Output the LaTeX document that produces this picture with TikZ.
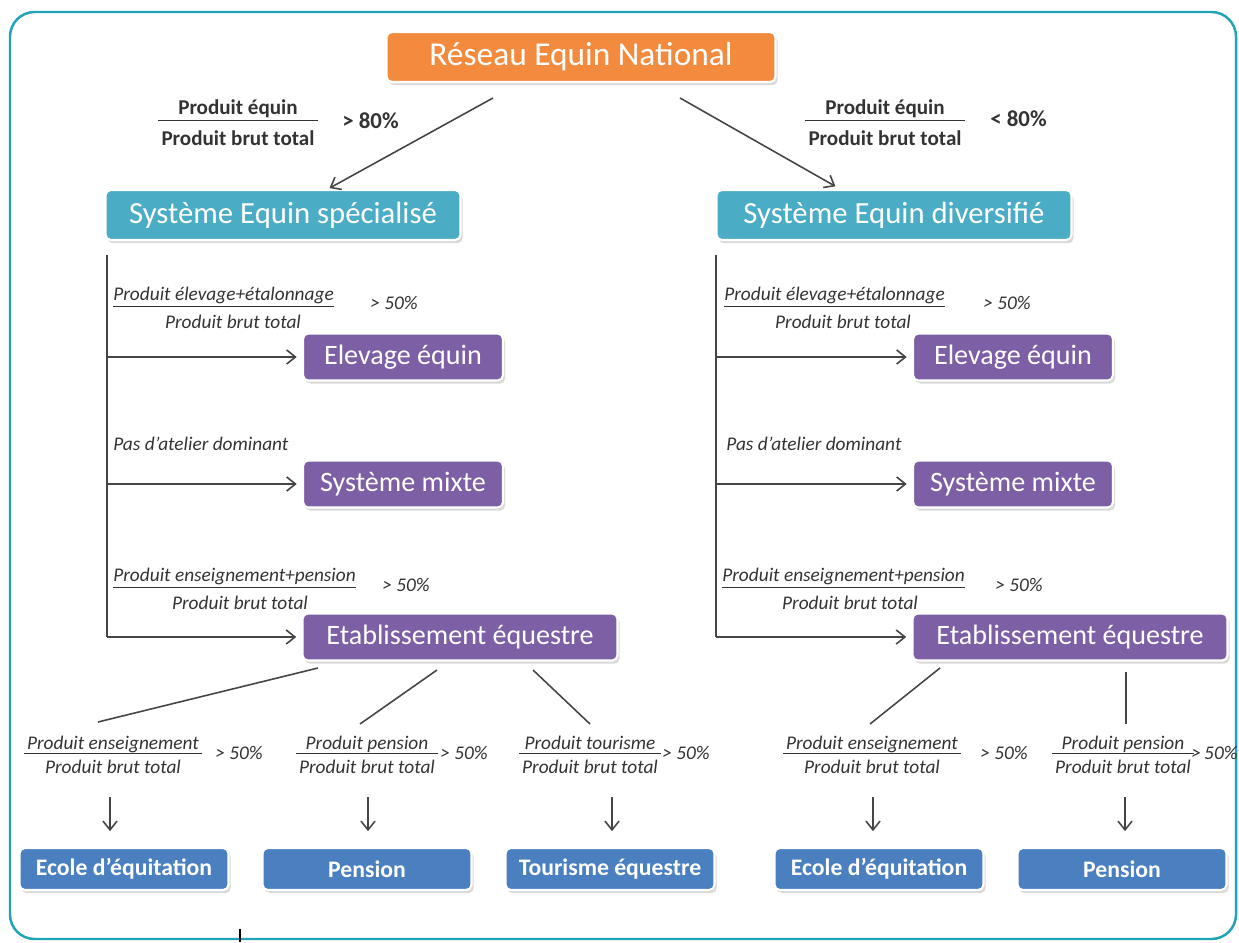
\documentclass[tikz,border=0pt]{standalone}
\usepackage{fontspec}
\setmainfont{Carlito}
\usetikzlibrary{arrows.meta,shadows}
\definecolor{frameC}{HTML}{1FA3B5}
\definecolor{orangeC}{HTML}{F38B3F}
\definecolor{tealC}{HTML}{4BACC6}
\definecolor{purpC}{HTML}{7D5FA5}
\definecolor{blueC}{HTML}{4A7FC0}
\definecolor{lineC}{HTML}{454545}
\definecolor{txtC}{HTML}{333333}
\setlength{\arrayrulewidth}{0.7pt}
\newcommand{\myfrac}[2]{\begin{tabular}{@{\,}c@{\,}}#1\\[-2pt]\hline\rule{0pt}{1.0em}#2\end{tabular}}
\newcommand{\bigfrac}[2]{\begin{tabular}{@{\,}c@{\,}}#1\\[-1pt]\hline\rule{0pt}{1.15em}#2\end{tabular}}
\begin{document}
\begin{tikzpicture}[x=0.02cm,y=-0.02cm,
  box/.style={rounded corners=3pt, draw=white, line width=1.2pt, text=white,
    inner sep=0pt, drop shadow={shadow xshift=1.2pt, shadow yshift=-1.8pt, opacity=0.3}},
  top/.style={box, fill=orangeC, minimum width=7.78cm, minimum height=1.0cm, font=\fontsize{19}{22}\selectfont},
  sys/.style={box, fill=tealC, minimum width=7.1cm, minimum height=1.0cm, font=\fontsize{17.5}{20}\selectfont},
  cat/.style={box, fill=purpC, minimum width=4.0cm, minimum height=0.94cm, font=\fontsize{16}{19}\selectfont},
  leaf/.style={box, fill=blueC, minimum width=4.18cm, minimum height=0.84cm, font=\bfseries\fontsize{13.5}{16}\selectfont},
  arr/.style={draw=lineC, line width=0.9pt, -{Straight Barb[length=5pt,width=8pt]}},
  ln/.style={draw=lineC, line width=0.9pt},
  bfr/.style={text=txtC, inner sep=0pt, font=\bfseries\fontsize{12}{14}\selectfont},
  bpc/.style={text=txtC, inner sep=0pt, font=\bfseries\fontsize{13}{15}\selectfont},
  ifr/.style={text=txtC, inner sep=0pt, font=\itshape\fontsize{11}{13}\selectfont},
]
\useasboundingbox (0,0) rectangle (1239,942);
\draw[frameC, line width=1.4pt, rounded corners=14pt] (10,12) rectangle (1236,939);
\draw[black, line width=0.6pt] (240,929) -- (240,942);

% main nodes
\node[top] (res) at (581,57) {Réseau Equin National};
\node[sys] (spec) at (283,215) {Système Equin spécialisé};
\node[sys] (div) at (894,215) {Système Equin diversifié};

\node[cat] (elevL) at (403,357) {Elevage équin};
\node[cat] (mixL) at (403,484) {Système mixte};
\node[cat, minimum width=6.3cm] (etabL) at (460,637) {Etablissement équestre};
\node[cat] (elevR) at (1013,357) {Elevage équin};
\node[cat] (mixR) at (1013,484) {Système mixte};
\node[cat, minimum width=6.3cm] (etabR) at (1070,637) {Etablissement équestre};

\node[leaf] (ecoleL) at (124,869) {Ecole d’équitation};
\node[leaf] (pensL) at (367,869) {Pension};
\node[leaf] (tour) at (610,869) {Tourisme équestre};
\node[leaf] (ecoleR) at (879,869) {Ecole d’équitation};
\node[leaf] (pensR) at (1122,869) {Pension};

% top arrows
\coordinate (r1) at (493,98);
\coordinate (r2) at (680,98);
\draw[arr, shorten >=1pt] (r1) -- (spec.north -| 328,0);
\draw[arr, shorten >=3pt] (r2) -- (div.north -| 840,0);

% top fractions
\node[bfr] (f1) at (238,125) {\bigfrac{Produit équin}{Produit brut total}};
\node[bpc, anchor=west] (f1p) at (342,121) {> 80\%};
\node[bfr] (f2) at (885,125) {\bigfrac{Produit équin}{Produit brut total}};
\node[bpc, anchor=west] (f2p) at (990,119) {< 80\%};

% left bus
\coordinate (bL1) at (107,255);
\coordinate (bL2) at (107,637);
\draw[ln] (bL1) -- (bL2);
\draw[arr, shorten >=3pt] (bL1 |- elevL) -- (elevL.west);
\draw[arr, shorten >=3pt] (bL1 |- mixL) -- (mixL.west);
\draw[arr, shorten >=3pt] (bL2) -- (etabL.west);

% right bus
\coordinate (bR1) at (716,255);
\coordinate (bR2) at (716,637);
\draw[ln] (bR1) -- (bR2);
\draw[arr, shorten >=3pt] (bR1 |- elevR) -- (elevR.west);
\draw[arr, shorten >=3pt] (bR1 |- mixR) -- (mixR.west);
\draw[arr, shorten >=3pt] (bR2) -- (etabR.west);

% middle labels left
\node[ifr, anchor=west] (nL1) at (113,297) {\underline{Produit élevage+étalonnage}};
\node[ifr] (dL1) at (233,322) {Produit brut total};
\node[ifr, anchor=west] (pL1) at (370,303) {> 50\%};
\node[ifr, anchor=west] (pasL) at (113,444) {Pas d’atelier dominant};
\node[ifr, anchor=west] (nL3) at (113,578) {\underline{Produit enseignement+pension}};
\node[ifr] (dL3) at (240,603) {Produit brut total};
\node[ifr, anchor=west] (pL3) at (382,585) {> 50\%};

% middle labels right
\node[ifr, anchor=west] (nR1) at (724,297) {\underline{Produit élevage+étalonnage}};
\node[ifr] (dR1) at (843,322) {Produit brut total};
\node[ifr, anchor=west] (pR1) at (983,303) {> 50\%};
\node[ifr, anchor=west] (pasR) at (726,444) {Pas d’atelier dominant};
\node[ifr, anchor=west] (nR3) at (722,578) {\underline{Produit enseignement+pension}};
\node[ifr] (dR3) at (850,603) {Produit brut total};
\node[ifr, anchor=west] (pR3) at (995,585) {> 50\%};

% lines from etablissement
\coordinate (eL1) at (318,668); \coordinate (eL1e) at (98,722);
\coordinate (eL2) at (437,670); \coordinate (eL2e) at (360,724);
\coordinate (eL3) at (533,670); \coordinate (eL3e) at (590,724);
\coordinate (eR1) at (940,668); \coordinate (eR1e) at (870,724);
\coordinate (eR2) at (1126,672); \coordinate (eR2e) at (1126,724);
\draw[ln] (eL1) -- (eL1e);
\draw[ln] (eL2) -- (eL2e);
\draw[ln] (eL3) -- (eL3e);
\draw[ln] (eR1) -- (eR1e);
\draw[ln] (eR2) -- (eR2e);

% bottom fractions
\node[ifr] (b1) at (113,757) {\myfrac{Produit enseignement}{Produit brut total}};
\node[ifr, anchor=west] (b1p) at (215,753) {> 50\%};
\node[ifr] (b2) at (367,757) {\myfrac{Produit pension}{Produit brut total}};
\node[ifr, anchor=west] (b2p) at (440,753) {> 50\%};
\node[ifr] (b3) at (590,757) {\myfrac{Produit tourisme}{Produit brut total}};
\node[ifr, anchor=west] (b3p) at (662,753) {> 50\%};
\node[ifr] (b4) at (872,757) {\myfrac{Produit enseignement}{Produit brut total}};
\node[ifr, anchor=west] (b4p) at (980,753) {> 50\%};
\node[ifr] (b5) at (1123,757) {\myfrac{Produit pension}{Produit brut total}};
\node[ifr, anchor=west] (b5p) at (1191,753) {>\,50\%};

% down arrows
\coordinate (d1) at (110,797);
\coordinate (d2) at (368,797);
\coordinate (d3) at (612,797);
\coordinate (d4) at (873,797);
\coordinate (d5) at (1125,797);
\draw[arr, shorten >=9pt] (d1) -- (d1 |- ecoleL.north);
\draw[arr, shorten >=9pt] (d2) -- (d2 |- pensL.north);
\draw[arr, shorten >=9pt] (d3) -- (d3 |- tour.north);
\draw[arr, shorten >=9pt] (d4) -- (d4 |- ecoleR.north);
\draw[arr, shorten >=9pt] (d5) -- (d5 |- pensR.north);
\end{tikzpicture}
\end{document}
